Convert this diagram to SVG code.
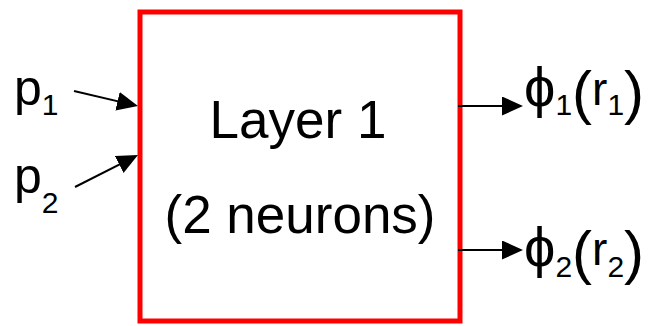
<svg xmlns="http://www.w3.org/2000/svg" width="650" height="326" viewBox="0 0 650 326">
<style>
text { font-family: "Liberation Sans", Arial, "DejaVu Sans", sans-serif; fill: #000; }
.main { font-size: 50px; }
.sub { font-size: 30px; }
.big { font-size: 53px; }
.phi { font-size: 56px; }
.par { font-size: 60px; }
.r { font-size: 46px; }
.conn { stroke: #000; stroke-width: 2; fill: none; marker-end: url(#ah); }
</style>
<defs>
<marker id="ah" markerUnits="userSpaceOnUse" markerWidth="22" markerHeight="20" refX="16" refY="9.5" orient="auto" viewBox="0 0 22 20">
<path d="M0,0 L21,9.5 L0,19 z" fill="#000"/>
</marker>
</defs>
<rect width="650" height="326" fill="#fff"/>
<g id="layer1">
<rect x="140" y="12" width="320" height="309" fill="#fff" stroke="#ff0000" stroke-width="5"/>
<text class="big" x="298" y="138" text-anchor="middle">Layer 1</text>
<text class="big" x="300" y="233" text-anchor="middle">(2 neurons)</text>
</g>
<g id="p1">
<text x="14" y="105"><tspan class="main">p</tspan><tspan class="sub" dy="10">1</tspan></text>
</g>
<g id="p2">
<text x="14" y="193"><tspan class="main">p</tspan><tspan class="sub" dy="20">2</tspan></text>
</g>
<g id="out1">
<text x="524" y="106"><tspan class="phi">ϕ</tspan><tspan class="sub" dy="9">1</tspan><tspan class="par" dy="-2">(</tspan><tspan class="r" dy="-8">r</tspan><tspan class="sub" dy="10">1</tspan><tspan class="par" dy="-2">)</tspan></text>
</g>
<g id="out2">
<text x="524" y="266"><tspan class="phi">ϕ</tspan><tspan class="sub" dy="11">2</tspan><tspan class="par" dy="-4">(</tspan><tspan class="r" dy="-8">r</tspan><tspan class="sub" dy="12">2</tspan><tspan class="par" dy="-4">)</tspan></text>
</g>
<g id="connectors">
<line class="conn" x1="74" y1="91" x2="133.1" y2="104.9"/>
<line class="conn" x1="75" y1="187" x2="133.5" y2="157.3"/>
<line class="conn" x1="458" y1="106" x2="518" y2="106"/>
<line class="conn" x1="458" y1="250" x2="518" y2="250"/>
</g>
</svg>
